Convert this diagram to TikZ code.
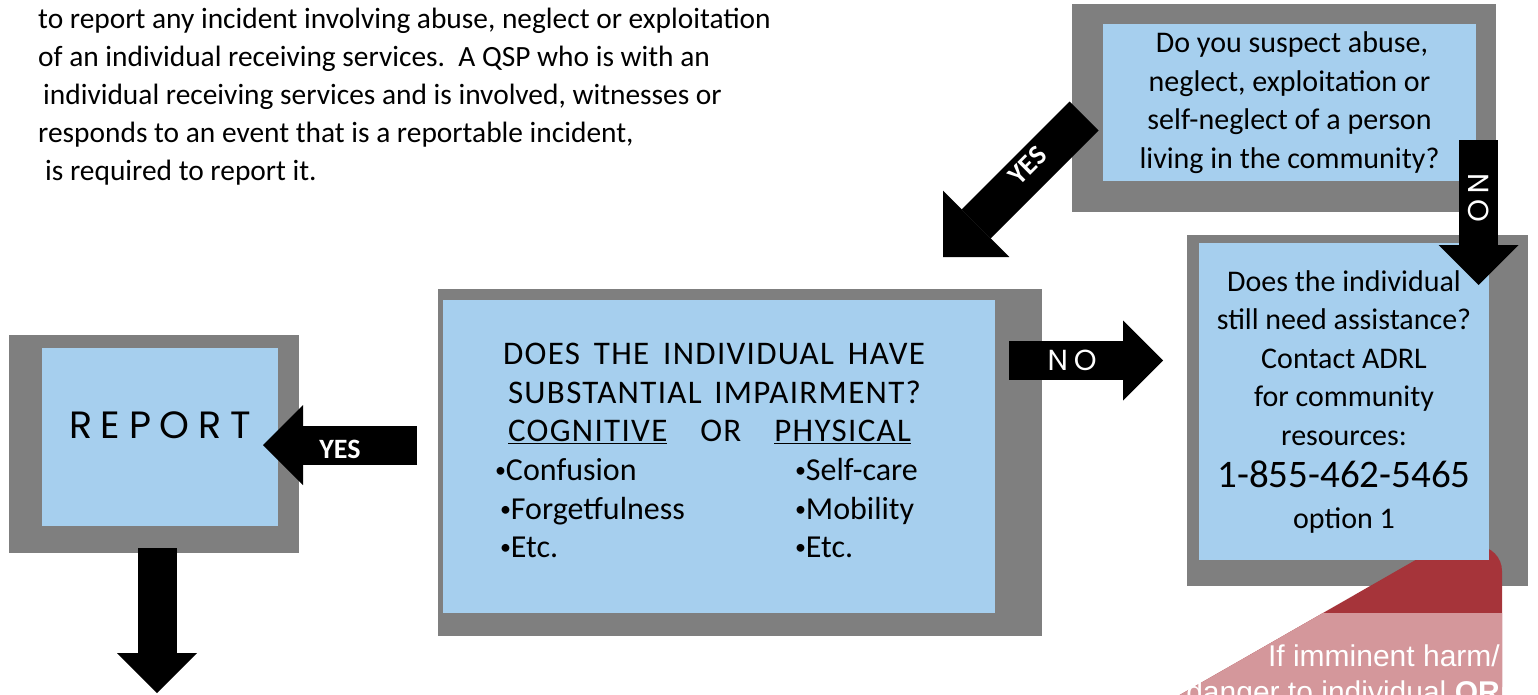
\documentclass[tikz,border=0pt]{standalone}
\usepackage{fontspec}
\setmainfont{Carlito}
\newfontfamily\gothicfont{Poppins}
\newfontfamily\arialfont{Liberation Sans}
\usetikzlibrary{arrows.meta}
\usetikzlibrary{fit}
\usetikzlibrary{positioning}

\definecolor{framegrey}{RGB}{127,127,127}
\definecolor{boxblue}{RGB}{166,207,238}
\definecolor{alertred}{RGB}{166,52,58}
\definecolor{alertpink}{RGB}{212,151,155}

\newcommand{\listdot}{{\fontsize{22}{22}\selectfont\raisebox{3pt}{\textbullet}}}
\newcommand{\capsline}{\addfontfeatures{LetterSpace=4}\fontsize{33}{38.6}\selectfont}

\tikzset{
  frame/.style={fill=framegrey,inner sep=0pt},
  question/.style={fill=boxblue,inner sep=0pt,align=center,font=\fontsize{30}{38.5}\selectfont},
  blockarrow/.style={line width=39pt,-{Triangle[length=40pt,width=80pt,line width=0pt]}},
  arrowtext/.style={text=white,inner sep=0pt},
  notext/.style={arrowtext,font=\gothicfont\addfontfeatures{LetterSpace=20}\fontsize{29}{30}\selectfont},
  yestext/.style={arrowtext,font=\bfseries\fontsize{28}{30}\selectfont}
}

\begin{document}
\begin{tikzpicture}[x=1pt,y=-1pt]
  \useasboundingbox (0,0) rectangle (1538,694);

  \node [anchor=north west,inner sep=0pt,align=left,font=\fontsize{29.4}{38}\selectfont] (intro) at (38,8) {%
    to report any incident involving abuse, neglect or exploitation\\
    of an individual receiving services.\ \ A QSP who is with an\\
    \hspace*{5pt}individual receiving services and is involved, witnesses or\\
    responds to an event that is a reportable incident,\\
    \hspace*{7pt}is required to report it.};

  % first question
  \node [frame,fit={(1072,4) (1496,212)}] (q1frame) {};
  \node [question,minimum width=373pt,minimum height=157pt] (q1) at (1289.5,102.5) {%
    \hspace*{5pt}Do you suspect abuse,\\neglect, exploitation or\\self-neglect of a person\\living in the community?};

  % impairment question
  \node [frame,fit={(438,289) (1042,636)}] (impairframe) {};
  \node [question,minimum width=552pt,minimum height=313pt,align=left,text depth=12pt,
         font=\fontsize{32}{38.6}\selectfont] (impair) at (719,456.5) {%
    \hspace*{8pt}\makebox[422pt]{\capsline DOES\hfill THE\hfill INDIVIDUAL\hfill HAVE}\hspace*{18pt}\\
    \hspace*{13pt}\makebox[413pt]{\capsline SUBSTANTIAL\hfill IMPAIRMENT?}\\
    \hspace*{13pt}\makebox[403pt]{\capsline\underline{COGNITIVE}\hfill OR\hfill \underline{PHYSICAL}}\\
    \makebox[300pt][l]{\listdot Confusion}\listdot Self-care\\
    \hspace*{5pt}\makebox[295pt][l]{\listdot Forgetfulness}\listdot Mobility\\
    \hspace*{5pt}\makebox[295pt][l]{\listdot Etc.}\listdot Etc.};

  % report
  \node [frame,fit={(9,335) (299,553)}] (reportframe) {};
  \node [question,minimum width=236pt,minimum height=178pt,text depth=24pt,
         font=\gothicfont\addfontfeatures{LetterSpace=23}\fontsize{38}{40}\selectfont] (report) at (160,437) {REPORT};

  % community resources, with the alert behind it
  \node [frame,fit={(1187,235) (1528,586)}] (q3frame) {};
  \fill [alertred,rounded corners=25pt] (1150,712) -- (1440,546) -- (1502,546) -- (1502,712) -- cycle;
  \fill [alertpink] (1150,712) -- (1323,613) -- (1502,613) -- (1502,712) -- cycle;
  \node [anchor=north east,inner sep=0pt,align=right,text=white,font=\arialfont\fontsize{30}{36}\selectfont] (alert) at (1500,645) {%
    If imminent harm/\\danger to individual \textbf{OR}};
  \node [question,minimum width=290pt,minimum height=317pt] (q3) at (1344,401.5) {%
    Does the individual\\still need assistance?\\Contact ADRL\\for community\\resources:\\[4pt]
    {\fontsize{39}{43}\selectfont 1-855-462-5465}\\[2pt]option 1};

  % arrows
  \coordinate (yes1 tail) at (1084,116);
  \coordinate (yes1 tip) at (943,257);
  \coordinate (no1 tail) at (1478.5,140);
  \coordinate (no1 tip) at (1478.5,285);
  \coordinate (no2 tail) at (1009,360.5);
  \coordinate (no2 tip) at (1163,360.5);
  \coordinate (yes2 tail) at (417,445);
  \coordinate (yes2 tip) at (263,445);
  \coordinate (report tail) at (157,548);
  \coordinate (report tip) at (157,693);

  \draw [blockarrow,line width=41pt,-{Triangle[length=47pt,width=94pt,line width=0pt]}]
    (yes1 tail) -- node [yestext,pos=0.35,rotate=45,xshift=-5pt,yshift=5pt] (yes1) {YES} (yes1 tip);
  \draw [blockarrow]
    (no1 tail) -- node [notext,pos=0.4,rotate=-90] (no1) {NO} (no1 tip);
  \draw [blockarrow]
    (no2 tail) -- node [notext,pos=0.41] (no2) {NO} (no2 tip);
  \draw [blockarrow]
    (yes2 tail) -- node [yestext,pos=0.5,yshift=-4pt] (yes2) {YES} (yes2 tip);
  \draw [blockarrow] (report tail) -- (report tip);

\end{tikzpicture}
\end{document}
